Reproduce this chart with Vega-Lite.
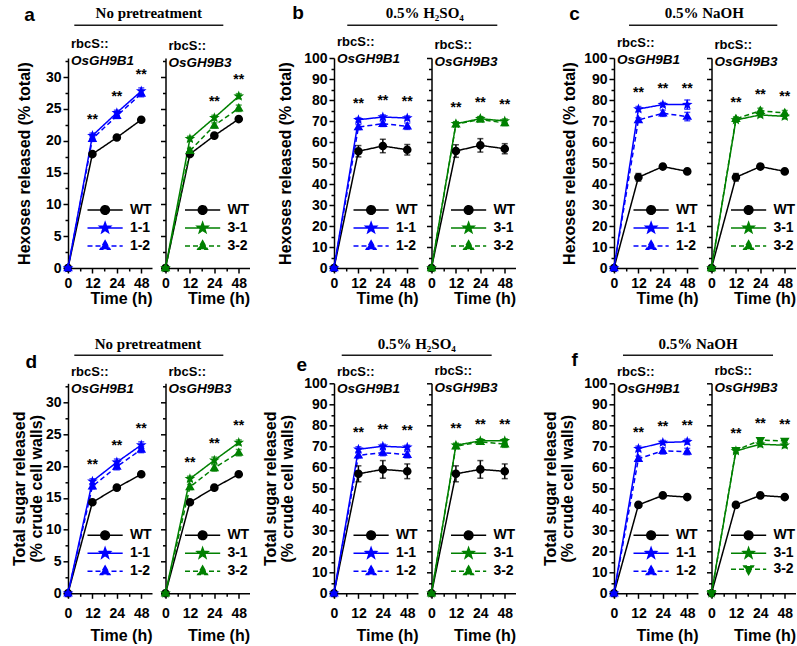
{
"$schema": "https://vega.github.io/schema/vega-lite/v6.json",
"background": "white",
"padding": {"left": 11, "top": 3, "right": -6, "bottom": 0},
"datasets": {"d": [
{"p":"a","g":"B1","s":"WT","t":0,"v":0,"e":0},{"p":"a","g":"B1","s":"WT","t":12,"v":17.9,"e":0.3},{"p":"a","g":"B1","s":"WT","t":24,"v":20.5,"e":0.3},{"p":"a","g":"B1","s":"WT","t":48,"v":23.3,"e":0.3},
{"p":"a","g":"B1","s":"1-1","t":0,"v":0,"e":0},{"p":"a","g":"B1","s":"1-1","t":12,"v":20.8,"e":0.4,"sig":"**"},{"p":"a","g":"B1","s":"1-1","t":24,"v":24.4,"e":0.4,"sig":"**"},{"p":"a","g":"B1","s":"1-1","t":48,"v":27.8,"e":0.5,"sig":"**"},
{"p":"a","g":"B1","s":"1-2","t":0,"v":0,"e":0},{"p":"a","g":"B1","s":"1-2","t":12,"v":20.3,"e":0.4},{"p":"a","g":"B1","s":"1-2","t":24,"v":23.9,"e":0.4},{"p":"a","g":"B1","s":"1-2","t":48,"v":27.4,"e":0.5},
{"p":"a","g":"B3","s":"WT","t":0,"v":0,"e":0},{"p":"a","g":"B3","s":"WT","t":12,"v":17.9,"e":0.3},{"p":"a","g":"B3","s":"WT","t":24,"v":20.8,"e":0.3},{"p":"a","g":"B3","s":"WT","t":48,"v":23.4,"e":0.3},
{"p":"a","g":"B3","s":"3-1","t":0,"v":0,"e":0},{"p":"a","g":"B3","s":"3-1","t":12,"v":20.3,"e":0.4},{"p":"a","g":"B3","s":"3-1","t":24,"v":23.6,"e":0.4,"sig":"**"},{"p":"a","g":"B3","s":"3-1","t":48,"v":27.0,"e":0.4,"sig":"**"},
{"p":"a","g":"B3","s":"3-2","t":0,"v":0,"e":0},{"p":"a","g":"B3","s":"3-2","t":12,"v":18.4,"e":0.4},{"p":"a","g":"B3","s":"3-2","t":24,"v":22.4,"e":0.4},{"p":"a","g":"B3","s":"3-2","t":48,"v":25.1,"e":0.5},
{"p":"b","g":"B1","s":"WT","t":0,"v":0,"e":0},{"p":"b","g":"B1","s":"WT","t":12,"v":55.6,"e":2.7},{"p":"b","g":"B1","s":"WT","t":24,"v":58.1,"e":3.2},{"p":"b","g":"B1","s":"WT","t":48,"v":56.3,"e":2.5},
{"p":"b","g":"B1","s":"1-1","t":0,"v":0,"e":0},{"p":"b","g":"B1","s":"1-1","t":12,"v":70.6,"e":1.0,"sig":"**"},{"p":"b","g":"B1","s":"1-1","t":24,"v":71.9,"e":1.0,"sig":"**"},{"p":"b","g":"B1","s":"1-1","t":48,"v":71.4,"e":1.0,"sig":"**"},
{"p":"b","g":"B1","s":"1-2","t":0,"v":0,"e":0},{"p":"b","g":"B1","s":"1-2","t":12,"v":67.1,"e":1.2},{"p":"b","g":"B1","s":"1-2","t":24,"v":68.7,"e":1.3},{"p":"b","g":"B1","s":"1-2","t":48,"v":67.5,"e":1.5},
{"p":"b","g":"B3","s":"WT","t":0,"v":0,"e":0},{"p":"b","g":"B3","s":"WT","t":12,"v":55.7,"e":3.0},{"p":"b","g":"B3","s":"WT","t":24,"v":58.4,"e":3.2},{"p":"b","g":"B3","s":"WT","t":48,"v":56.8,"e":2.4},
{"p":"b","g":"B3","s":"3-1","t":0,"v":0,"e":0},{"p":"b","g":"B3","s":"3-1","t":12,"v":68.7,"e":1.0,"sig":"**"},{"p":"b","g":"B3","s":"3-1","t":24,"v":71.1,"e":1.0,"sig":"**"},{"p":"b","g":"B3","s":"3-1","t":48,"v":70.0,"e":1.0,"sig":"**"},
{"p":"b","g":"B3","s":"3-2","t":0,"v":0,"e":0},{"p":"b","g":"B3","s":"3-2","t":12,"v":68.4,"e":1.0},{"p":"b","g":"B3","s":"3-2","t":24,"v":70.8,"e":1.2},{"p":"b","g":"B3","s":"3-2","t":48,"v":69.0,"e":1.2},
{"p":"c","g":"B1","s":"WT","t":0,"v":0,"e":0},{"p":"c","g":"B1","s":"WT","t":12,"v":43.2,"e":1.8},{"p":"c","g":"B1","s":"WT","t":24,"v":48.3,"e":1.0},{"p":"c","g":"B1","s":"WT","t":48,"v":46.0,"e":0.8},
{"p":"c","g":"B1","s":"1-1","t":0,"v":0,"e":0},{"p":"c","g":"B1","s":"1-1","t":12,"v":75.7,"e":1.2,"sig":"**"},{"p":"c","g":"B1","s":"1-1","t":24,"v":77.8,"e":1.0,"sig":"**"},{"p":"c","g":"B1","s":"1-1","t":48,"v":77.8,"e":2.2,"sig":"**"},
{"p":"c","g":"B1","s":"1-2","t":0,"v":0,"e":0},{"p":"c","g":"B1","s":"1-2","t":12,"v":70.5,"e":1.0},{"p":"c","g":"B1","s":"1-2","t":24,"v":73.7,"e":1.5},{"p":"c","g":"B1","s":"1-2","t":48,"v":72.1,"e":2.0},
{"p":"c","g":"B3","s":"WT","t":0,"v":0,"e":0},{"p":"c","g":"B3","s":"WT","t":12,"v":43.2,"e":1.8},{"p":"c","g":"B3","s":"WT","t":24,"v":48.3,"e":1.0},{"p":"c","g":"B3","s":"WT","t":48,"v":46.0,"e":0.8},
{"p":"c","g":"B3","s":"3-1","t":0,"v":0,"e":0},{"p":"c","g":"B3","s":"3-1","t":12,"v":70.5,"e":1.0},{"p":"c","g":"B3","s":"3-1","t":24,"v":72.9,"e":1.0},{"p":"c","g":"B3","s":"3-1","t":48,"v":72.2,"e":1.2},
{"p":"c","g":"B3","s":"3-2","t":0,"v":0,"e":0},{"p":"c","g":"B3","s":"3-2","t":12,"v":71.0,"e":1.0,"sig":"**"},{"p":"c","g":"B3","s":"3-2","t":24,"v":74.9,"e":1.2,"sig":"**"},{"p":"c","g":"B3","s":"3-2","t":48,"v":73.8,"e":1.2,"sig":"**"},
{"p":"d","g":"B1","s":"WT","t":0,"v":0,"e":0},{"p":"d","g":"B1","s":"WT","t":12,"v":14.3,"e":0.3},{"p":"d","g":"B1","s":"WT","t":24,"v":16.6,"e":0.3},{"p":"d","g":"B1","s":"WT","t":48,"v":18.7,"e":0.3},
{"p":"d","g":"B1","s":"1-1","t":0,"v":0,"e":0},{"p":"d","g":"B1","s":"1-1","t":12,"v":17.6,"e":0.4,"sig":"**"},{"p":"d","g":"B1","s":"1-1","t":24,"v":20.6,"e":0.5,"sig":"**"},{"p":"d","g":"B1","s":"1-1","t":48,"v":23.3,"e":0.5,"sig":"**"},
{"p":"d","g":"B1","s":"1-2","t":0,"v":0,"e":0},{"p":"d","g":"B1","s":"1-2","t":12,"v":16.8,"e":0.4},{"p":"d","g":"B1","s":"1-2","t":24,"v":19.9,"e":0.5},{"p":"d","g":"B1","s":"1-2","t":48,"v":22.6,"e":0.5},
{"p":"d","g":"B3","s":"WT","t":0,"v":0,"e":0},{"p":"d","g":"B3","s":"WT","t":12,"v":14.3,"e":0.3},{"p":"d","g":"B3","s":"WT","t":24,"v":16.6,"e":0.3},{"p":"d","g":"B3","s":"WT","t":48,"v":18.7,"e":0.3},
{"p":"d","g":"B3","s":"3-1","t":0,"v":0,"e":0},{"p":"d","g":"B3","s":"3-1","t":12,"v":18.0,"e":0.4,"sig":"**"},{"p":"d","g":"B3","s":"3-1","t":24,"v":20.9,"e":0.5,"sig":"**"},{"p":"d","g":"B3","s":"3-1","t":48,"v":23.7,"e":0.4,"sig":"**"},
{"p":"d","g":"B3","s":"3-2","t":0,"v":0,"e":0},{"p":"d","g":"B3","s":"3-2","t":12,"v":16.7,"e":0.4},{"p":"d","g":"B3","s":"3-2","t":24,"v":19.7,"e":0.5},{"p":"d","g":"B3","s":"3-2","t":48,"v":22.1,"e":0.5},
{"p":"e","g":"B1","s":"WT","t":0,"v":0,"e":0},{"p":"e","g":"B1","s":"WT","t":12,"v":56.9,"e":3.8},{"p":"e","g":"B1","s":"WT","t":24,"v":59.0,"e":4.2},{"p":"e","g":"B1","s":"WT","t":48,"v":58.1,"e":3.5},
{"p":"e","g":"B1","s":"1-1","t":0,"v":0,"e":0},{"p":"e","g":"B1","s":"1-1","t":12,"v":68.6,"e":1.2,"sig":"**"},{"p":"e","g":"B1","s":"1-1","t":24,"v":70.0,"e":1.0,"sig":"**"},{"p":"e","g":"B1","s":"1-1","t":48,"v":69.5,"e":1.0,"sig":"**"},
{"p":"e","g":"B1","s":"1-2","t":0,"v":0,"e":0},{"p":"e","g":"B1","s":"1-2","t":12,"v":65.7,"e":1.2},{"p":"e","g":"B1","s":"1-2","t":24,"v":67.0,"e":1.5},{"p":"e","g":"B1","s":"1-2","t":48,"v":66.0,"e":1.5},
{"p":"e","g":"B3","s":"WT","t":0,"v":0,"e":0},{"p":"e","g":"B3","s":"WT","t":12,"v":56.9,"e":3.8},{"p":"e","g":"B3","s":"WT","t":24,"v":59.0,"e":4.2},{"p":"e","g":"B3","s":"WT","t":48,"v":58.1,"e":3.5},
{"p":"e","g":"B3","s":"3-1","t":0,"v":0,"e":0},{"p":"e","g":"B3","s":"3-1","t":12,"v":70.5,"e":1.0,"sig":"**"},{"p":"e","g":"B3","s":"3-1","t":24,"v":72.6,"e":1.0,"sig":"**"},{"p":"e","g":"B3","s":"3-1","t":48,"v":72.6,"e":1.0,"sig":"**"},
{"p":"e","g":"B3","s":"3-2","t":0,"v":0,"e":0},{"p":"e","g":"B3","s":"3-2","t":12,"v":70.0,"e":1.0},{"p":"e","g":"B3","s":"3-2","t":24,"v":72.1,"e":1.0},{"p":"e","g":"B3","s":"3-2","t":48,"v":71.0,"e":1.5},
{"p":"f","g":"B1","s":"WT","t":0,"v":0,"e":0},{"p":"f","g":"B1","s":"WT","t":12,"v":42.1,"e":1.0},{"p":"f","g":"B1","s":"WT","t":24,"v":46.6,"e":0.8},{"p":"f","g":"B1","s":"WT","t":48,"v":45.8,"e":0.8},
{"p":"f","g":"B1","s":"1-1","t":0,"v":0,"e":0},{"p":"f","g":"B1","s":"1-1","t":12,"v":68.9,"e":1.2,"sig":"**"},{"p":"f","g":"B1","s":"1-1","t":24,"v":71.8,"e":1.0,"sig":"**"},{"p":"f","g":"B1","s":"1-1","t":48,"v":72.2,"e":1.2,"sig":"**"},
{"p":"f","g":"B1","s":"1-2","t":0,"v":0,"e":0},{"p":"f","g":"B1","s":"1-2","t":12,"v":64.1,"e":1.2},{"p":"f","g":"B1","s":"1-2","t":24,"v":67.8,"e":1.5},{"p":"f","g":"B1","s":"1-2","t":48,"v":67.5,"e":1.5},
{"p":"f","g":"B3","s":"WT","t":0,"v":0,"e":0},{"p":"f","g":"B3","s":"WT","t":12,"v":42.1,"e":1.0},{"p":"f","g":"B3","s":"WT","t":24,"v":46.6,"e":0.8},{"p":"f","g":"B3","s":"WT","t":48,"v":45.8,"e":0.8},
{"p":"f","g":"B3","s":"3-1","t":0,"v":0,"e":0},{"p":"f","g":"B3","s":"3-1","t":12,"v":67.8,"e":1.2},{"p":"f","g":"B3","s":"3-1","t":24,"v":71.0,"e":1.2},{"p":"f","g":"B3","s":"3-1","t":48,"v":70.5,"e":1.2},
{"p":"f","g":"B3","s":"3-2","t":0,"v":0,"e":0},{"p":"f","g":"B3","s":"3-2","t":12,"v":68.1,"e":1.0,"sig":"**"},{"p":"f","g":"B3","s":"3-2","t":24,"v":72.9,"e":1.0,"sig":"**"},{"p":"f","g":"B3","s":"3-2","t":48,"v":72.6,"e":1.0,"sig":"**"}
]},
"columns": 6,
"spacing": {"row": 115.3, "column": 13.5},
"bounds": "flush",
"align": "each",
"resolve": {"scale": {"x": "independent", "y": "independent", "color": "independent", "shape": "independent", "strokeDash": "independent"}, "legend": {"color": "independent", "shape": "independent", "strokeDash": "independent"}},
"concat": [
{
 "width": 84, "height": 210,
 "title": {"text": "rbcS::", "subtitle": "OsGH9B1", "offset": -8, "dy": 54},
 "resolve": {"scale": {"x": "independent", "y": "independent"}, "axis": {"x": "independent", "y": "independent"}},
 "layer": [
  {
   "data": {"name": "d"},
   "transform": [{"filter": "datum.p == 'a' && datum.g == 'B1'"}],
   "encoding": {
    "x": {"field": "t", "type": "ordinal", "scale": {"type": "point", "domain": [0,12,24,48], "range": [0,84], "padding": 0.22, "align": 0}, "axis": {"title": "Time (h)", "labelAngle": 0, "titleAnchor": "end", "labelPadding": 3, "titlePadding": 0}},
    "y": {"field": "v", "type": "quantitative", "scale": {"domain": [0,33], "nice": false, "zero": false}, "axis": {"title": "Hexoses released (% total)", "values": [0,5,10,15,20,25,30], "titlePadding": 13}},
    "color": {"field": "s", "type": "nominal", "scale": {"domain": ["WT","1-1","1-2"], "range": ["#000000","#0000ff","#0000ff"]}, "legend": {"title": null}}
   },
   "layer": [
    {"mark": {"type": "line", "strokeWidth": 1.5}, "encoding": {"strokeDash": {"field": "s", "type": "nominal", "scale": {"domain": ["WT","1-1","1-2"], "range": [[1,0],[1,0],[5,3]]}, "legend": {"title": null}}}},
    {"transform": [{"filter": "datum.e > 0"}], "mark": {"type": "errorbar", "ticks": {"size": 6}, "thickness": 1.5}, "encoding": {"yError": {"field": "e"}}},
    {"mark": {"type": "point", "filled": true, "size": 64, "opacity": 1}, "encoding": {"shape": {"field": "s", "type": "nominal", "scale": {"domain": ["WT","1-1","1-2"], "range": ["M-4.4,0H4.4M1.08,0A1.08,1.08,0,1,1,-1.08,0A1.08,1.08,0,1,1,1.08,0Z","M-4.4,0H4.4M0,-1.4L0.335,-0.461L1.331,-0.433L0.542,0.176L0.823,1.133L0,0.57L-0.823,1.133L-0.542,0.176L-1.331,-0.433L-0.335,-0.461Z","M-4.4,0H4.4M0,-1.3L1.2,0.8L-1.2,0.8Z"]}, "legend": {"title": null}}}},
    {"transform": [{"filter": "datum.sig"}], "mark": {"type": "text", "dy": -16, "fontSize": 14, "fontWeight": "bold"}, "encoding": {"text": {"field": "sig"}, "color": {"value": "#000000"}}}
   ]
  },
  {
   "data": {"name": "d"},
   "transform": [{"filter": "datum.p == 'a' && datum.g == 'B1'"}],
   "mark": {"type": "point", "opacity": 0},
   "encoding": {
    "x": {"field": "t", "type": "ordinal", "scale": {"type": "point", "domain": [0,12,24,48], "range": [0,84], "padding": 0.22, "align": 0}, "axis": {"orient": "bottom", "title": null, "labels": false, "domain": false, "tickSize": 3, "values": [0,12,24], "translate": 12.7, "offset": -12.2}},
    "y": {"field": "v", "type": "quantitative", "scale": {"domain": [0,33], "nice": false, "zero": false}, "axis": {"orient": "left", "title": null, "labels": false, "domain": false, "tickSize": 3, "values": [2.5,7.5,12.5,17.5,22.5,27.5,32.5]}}
   }
  },
  {
   "data": {"values": [{"lab": "a", "ttl": "No pretreatment"}]},
   "layer": [
    {"mark": {"type": "rule", "strokeWidth": 1.5, "color": "#1a1a1a"}, "encoding": {"x": {"datum": 0.075, "type": "quantitative", "scale": {"domain": [0,1], "nice": false, "zero": false}, "axis": null}, "x2": {"datum": 1.849}, "y": {"datum": 1.156, "type": "quantitative", "scale": {"domain": [0,1], "nice": false, "zero": false}, "axis": null}}},
    {"mark": {"type": "text", "font": "Liberation Serif", "fontSize": 15, "fontWeight": "bold", "color": "#000000"}, "encoding": {"text": {"field": "ttl"}, "x": {"datum": 0.962, "type": "quantitative", "axis": null}, "y": {"datum": 1.214, "type": "quantitative", "axis": null}}},
    {"mark": {"type": "text", "fontSize": 19, "fontWeight": "bold", "color": "#000000"}, "encoding": {"text": {"field": "lab"}, "x": {"datum": -0.457, "type": "quantitative", "axis": null}, "y": {"datum": 1.207, "type": "quantitative", "axis": null}}}
   ]
  }
 ]
},
{
 "width": 154.8, "height": 210,
 "title": {"text": "rbcS::", "subtitle": "OsGH9B3", "offset": -11},
 "resolve": {"scale": {"x": "independent", "y": "independent"}, "axis": {"x": "independent", "y": "independent"}},
 "layer": [
  {
   "data": {"name": "d"},
   "transform": [{"filter": "datum.p == 'a' && datum.g == 'B3'"}],
   "encoding": {
    "x": {"field": "t", "type": "ordinal", "scale": {"type": "point", "domain": [0,12,24,48], "range": [0,84], "padding": 0.22, "align": 0}, "axis": {"title": "Time (h)", "labelAngle": 0, "titleAnchor": "end", "labelPadding": 3, "titlePadding": 0}},
    "y": {"field": "v", "type": "quantitative", "scale": {"domain": [0,33], "nice": false, "zero": false}, "axis": {"title": null, "labels": false, "values": [0,5,10,15,20,25,30]}},
    "color": {"field": "s", "type": "nominal", "scale": {"domain": ["WT","3-1","3-2"], "range": ["#000000","#008000","#008000"]}, "legend": {"title": null}}
   },
   "layer": [
    {"mark": {"type": "line", "strokeWidth": 1.5}, "encoding": {"strokeDash": {"field": "s", "type": "nominal", "scale": {"domain": ["WT","3-1","3-2"], "range": [[1,0],[1,0],[5,3]]}, "legend": {"title": null}}}},
    {"transform": [{"filter": "datum.e > 0"}], "mark": {"type": "errorbar", "ticks": {"size": 6}, "thickness": 1.5}, "encoding": {"yError": {"field": "e"}}},
    {"mark": {"type": "point", "filled": true, "size": 64, "opacity": 1}, "encoding": {"shape": {"field": "s", "type": "nominal", "scale": {"domain": ["WT","3-1","3-2"], "range": ["M-4.4,0H4.4M1.08,0A1.08,1.08,0,1,1,-1.08,0A1.08,1.08,0,1,1,1.08,0Z","M-4.4,0H4.4M0,-1.4L0.335,-0.461L1.331,-0.433L0.542,0.176L0.823,1.133L0,0.57L-0.823,1.133L-0.542,0.176L-1.331,-0.433L-0.335,-0.461Z","M-4.4,0H4.4M0,-1.3L1.2,0.8L-1.2,0.8Z"]}, "legend": {"title": null}}}},
    {"transform": [{"filter": "datum.sig"}], "mark": {"type": "text", "dy": -16, "fontSize": 14, "fontWeight": "bold"}, "encoding": {"text": {"field": "sig"}, "color": {"value": "#000000"}}}
   ]
  },
  {
   "data": {"name": "d"},
   "transform": [{"filter": "datum.p == 'a' && datum.g == 'B3'"}],
   "mark": {"type": "point", "opacity": 0},
   "encoding": {
    "x": {"field": "t", "type": "ordinal", "scale": {"type": "point", "domain": [0,12,24,48], "range": [0,84], "padding": 0.22, "align": 0}, "axis": {"orient": "bottom", "title": null, "labels": false, "domain": false, "tickSize": 3, "values": [0,12,24], "translate": 12.7, "offset": -12.2}},
    "y": {"field": "v", "type": "quantitative", "scale": {"domain": [0,33], "nice": false, "zero": false}, "axis": {"orient": "left", "title": null, "labels": false, "domain": false, "tickSize": 3, "values": [2.5,7.5,12.5,17.5,22.5,27.5,32.5]}}
   }
  }
 ]
},
{
 "width": 84, "height": 210,
 "title": {"text": "rbcS::", "subtitle": "OsGH9B1", "offset": -8, "dy": 54},
 "resolve": {"scale": {"x": "independent", "y": "independent"}, "axis": {"x": "independent", "y": "independent"}},
 "layer": [
  {
   "data": {"name": "d"},
   "transform": [{"filter": "datum.p == 'b' && datum.g == 'B1'"}],
   "encoding": {
    "x": {"field": "t", "type": "ordinal", "scale": {"type": "point", "domain": [0,12,24,48], "range": [0,84], "padding": 0.22, "align": 0}, "axis": {"title": "Time (h)", "labelAngle": 0, "titleAnchor": "end", "labelPadding": 3, "titlePadding": 0}},
    "y": {"field": "v", "type": "quantitative", "scale": {"domain": [0,100], "nice": false, "zero": false}, "axis": {"title": "Hexoses released (% total)", "values": [0,10,20,30,40,50,60,70,80,90,100], "titlePadding": 10}},
    "color": {"field": "s", "type": "nominal", "scale": {"domain": ["WT","1-1","1-2"], "range": ["#000000","#0000ff","#0000ff"]}, "legend": {"title": null}}
   },
   "layer": [
    {"mark": {"type": "line", "strokeWidth": 1.5}, "encoding": {"strokeDash": {"field": "s", "type": "nominal", "scale": {"domain": ["WT","1-1","1-2"], "range": [[1,0],[1,0],[5,3]]}, "legend": {"title": null}}}},
    {"transform": [{"filter": "datum.e > 0"}], "mark": {"type": "errorbar", "ticks": {"size": 6}, "thickness": 1.5}, "encoding": {"yError": {"field": "e"}}},
    {"mark": {"type": "point", "filled": true, "size": 64, "opacity": 1}, "encoding": {"shape": {"field": "s", "type": "nominal", "scale": {"domain": ["WT","1-1","1-2"], "range": ["M-4.4,0H4.4M1.08,0A1.08,1.08,0,1,1,-1.08,0A1.08,1.08,0,1,1,1.08,0Z","M-4.4,0H4.4M0,-1.4L0.335,-0.461L1.331,-0.433L0.542,0.176L0.823,1.133L0,0.57L-0.823,1.133L-0.542,0.176L-1.331,-0.433L-0.335,-0.461Z","M-4.4,0H4.4M0,-1.3L1.2,0.8L-1.2,0.8Z"]}, "legend": {"title": null}}}},
    {"transform": [{"filter": "datum.sig"}], "mark": {"type": "text", "dy": -16, "fontSize": 14, "fontWeight": "bold"}, "encoding": {"text": {"field": "sig"}, "color": {"value": "#000000"}}}
   ]
  },
  {
   "data": {"name": "d"},
   "transform": [{"filter": "datum.p == 'b' && datum.g == 'B1'"}],
   "mark": {"type": "point", "opacity": 0},
   "encoding": {
    "x": {"field": "t", "type": "ordinal", "scale": {"type": "point", "domain": [0,12,24,48], "range": [0,84], "padding": 0.22, "align": 0}, "axis": {"orient": "bottom", "title": null, "labels": false, "domain": false, "tickSize": 3, "values": [0,12,24], "translate": 12.7, "offset": -12.2}},
    "y": {"field": "v", "type": "quantitative", "scale": {"domain": [0,100], "nice": false, "zero": false}, "axis": {"orient": "left", "title": null, "labels": false, "domain": false, "tickSize": 3, "values": [5,15,25,35,45,55,65,75,85,95]}}
   }
  },
  {
   "data": {"values": [{"lab": "b", "ttl": "0.5% H₂SO₄"}]},
   "layer": [
    {"mark": {"type": "rule", "strokeWidth": 1.5, "color": "#1a1a1a"}, "encoding": {"x": {"datum": 0.158, "type": "quantitative", "scale": {"domain": [0,1], "nice": false, "zero": false}, "axis": null}, "x2": {"datum": 1.944}, "y": {"datum": 1.156, "type": "quantitative", "scale": {"domain": [0,1], "nice": false, "zero": false}, "axis": null}}},
    {"mark": {"type": "text", "font": "Liberation Serif", "fontSize": 15, "fontWeight": "bold", "color": "#000000"}, "encoding": {"text": {"field": "ttl"}, "x": {"datum": 1.08, "type": "quantitative", "axis": null}, "y": {"datum": 1.214, "type": "quantitative", "axis": null}}},
    {"mark": {"type": "text", "fontSize": 19, "fontWeight": "bold", "color": "#000000"}, "encoding": {"text": {"field": "lab"}, "x": {"datum": -0.429, "type": "quantitative", "axis": null}, "y": {"datum": 1.216, "type": "quantitative", "axis": null}}}
   ]
  }
 ]
},
{
 "width": 168.5, "height": 210,
 "title": {"text": "rbcS::", "subtitle": "OsGH9B3", "offset": -11},
 "resolve": {"scale": {"x": "independent", "y": "independent"}, "axis": {"x": "independent", "y": "independent"}},
 "layer": [
  {
   "data": {"name": "d"},
   "transform": [{"filter": "datum.p == 'b' && datum.g == 'B3'"}],
   "encoding": {
    "x": {"field": "t", "type": "ordinal", "scale": {"type": "point", "domain": [0,12,24,48], "range": [0,84], "padding": 0.22, "align": 0}, "axis": {"title": "Time (h)", "labelAngle": 0, "titleAnchor": "end", "labelPadding": 3, "titlePadding": 0}},
    "y": {"field": "v", "type": "quantitative", "scale": {"domain": [0,100], "nice": false, "zero": false}, "axis": {"title": null, "labels": false, "values": [0,10,20,30,40,50,60,70,80,90,100]}},
    "color": {"field": "s", "type": "nominal", "scale": {"domain": ["WT","3-1","3-2"], "range": ["#000000","#008000","#008000"]}, "legend": {"title": null}}
   },
   "layer": [
    {"mark": {"type": "line", "strokeWidth": 1.5}, "encoding": {"strokeDash": {"field": "s", "type": "nominal", "scale": {"domain": ["WT","3-1","3-2"], "range": [[1,0],[1,0],[5,3]]}, "legend": {"title": null}}}},
    {"transform": [{"filter": "datum.e > 0"}], "mark": {"type": "errorbar", "ticks": {"size": 6}, "thickness": 1.5}, "encoding": {"yError": {"field": "e"}}},
    {"mark": {"type": "point", "filled": true, "size": 64, "opacity": 1}, "encoding": {"shape": {"field": "s", "type": "nominal", "scale": {"domain": ["WT","3-1","3-2"], "range": ["M-4.4,0H4.4M1.08,0A1.08,1.08,0,1,1,-1.08,0A1.08,1.08,0,1,1,1.08,0Z","M-4.4,0H4.4M0,-1.4L0.335,-0.461L1.331,-0.433L0.542,0.176L0.823,1.133L0,0.57L-0.823,1.133L-0.542,0.176L-1.331,-0.433L-0.335,-0.461Z","M-4.4,0H4.4M0,-1.3L1.2,0.8L-1.2,0.8Z"]}, "legend": {"title": null}}}},
    {"transform": [{"filter": "datum.sig"}], "mark": {"type": "text", "dy": -16, "fontSize": 14, "fontWeight": "bold"}, "encoding": {"text": {"field": "sig"}, "color": {"value": "#000000"}}}
   ]
  },
  {
   "data": {"name": "d"},
   "transform": [{"filter": "datum.p == 'b' && datum.g == 'B3'"}],
   "mark": {"type": "point", "opacity": 0},
   "encoding": {
    "x": {"field": "t", "type": "ordinal", "scale": {"type": "point", "domain": [0,12,24,48], "range": [0,84], "padding": 0.22, "align": 0}, "axis": {"orient": "bottom", "title": null, "labels": false, "domain": false, "tickSize": 3, "values": [0,12,24], "translate": 12.7, "offset": -12.2}},
    "y": {"field": "v", "type": "quantitative", "scale": {"domain": [0,100], "nice": false, "zero": false}, "axis": {"orient": "left", "title": null, "labels": false, "domain": false, "tickSize": 3, "values": [5,15,25,35,45,55,65,75,85,95]}}
   }
  }
 ]
},
{
 "width": 84, "height": 210,
 "title": {"text": "rbcS::", "subtitle": "OsGH9B1", "offset": -8, "dy": 54},
 "resolve": {"scale": {"x": "independent", "y": "independent"}, "axis": {"x": "independent", "y": "independent"}},
 "layer": [
  {
   "data": {"name": "d"},
   "transform": [{"filter": "datum.p == 'c' && datum.g == 'B1'"}],
   "encoding": {
    "x": {"field": "t", "type": "ordinal", "scale": {"type": "point", "domain": [0,12,24,48], "range": [0,84], "padding": 0.22, "align": 0}, "axis": {"title": "Time (h)", "labelAngle": 0, "titleAnchor": "end", "labelPadding": 3, "titlePadding": 0}},
    "y": {"field": "v", "type": "quantitative", "scale": {"domain": [0,100], "nice": false, "zero": false}, "axis": {"title": "Hexoses released (% total)", "values": [0,10,20,30,40,50,60,70,80,90,100], "titlePadding": 6}},
    "color": {"field": "s", "type": "nominal", "scale": {"domain": ["WT","1-1","1-2"], "range": ["#000000","#0000ff","#0000ff"]}, "legend": {"title": null}}
   },
   "layer": [
    {"mark": {"type": "line", "strokeWidth": 1.5}, "encoding": {"strokeDash": {"field": "s", "type": "nominal", "scale": {"domain": ["WT","1-1","1-2"], "range": [[1,0],[1,0],[5,3]]}, "legend": {"title": null}}}},
    {"transform": [{"filter": "datum.e > 0"}], "mark": {"type": "errorbar", "ticks": {"size": 6}, "thickness": 1.5}, "encoding": {"yError": {"field": "e"}}},
    {"mark": {"type": "point", "filled": true, "size": 64, "opacity": 1}, "encoding": {"shape": {"field": "s", "type": "nominal", "scale": {"domain": ["WT","1-1","1-2"], "range": ["M-4.4,0H4.4M1.08,0A1.08,1.08,0,1,1,-1.08,0A1.08,1.08,0,1,1,1.08,0Z","M-4.4,0H4.4M0,-1.4L0.335,-0.461L1.331,-0.433L0.542,0.176L0.823,1.133L0,0.57L-0.823,1.133L-0.542,0.176L-1.331,-0.433L-0.335,-0.461Z","M-4.4,0H4.4M0,-1.3L1.2,0.8L-1.2,0.8Z"]}, "legend": {"title": null}}}},
    {"transform": [{"filter": "datum.sig"}], "mark": {"type": "text", "dy": -16, "fontSize": 14, "fontWeight": "bold"}, "encoding": {"text": {"field": "sig"}, "color": {"value": "#000000"}}}
   ]
  },
  {
   "data": {"name": "d"},
   "transform": [{"filter": "datum.p == 'c' && datum.g == 'B1'"}],
   "mark": {"type": "point", "opacity": 0},
   "encoding": {
    "x": {"field": "t", "type": "ordinal", "scale": {"type": "point", "domain": [0,12,24,48], "range": [0,84], "padding": 0.22, "align": 0}, "axis": {"orient": "bottom", "title": null, "labels": false, "domain": false, "tickSize": 3, "values": [0,12,24], "translate": 12.7, "offset": -12.2}},
    "y": {"field": "v", "type": "quantitative", "scale": {"domain": [0,100], "nice": false, "zero": false}, "axis": {"orient": "left", "title": null, "labels": false, "domain": false, "tickSize": 3, "values": [5,15,25,35,45,55,65,75,85,95]}}
   }
  },
  {
   "data": {"values": [{"lab": "c", "ttl": "0.5% NaOH"}]},
   "layer": [
    {"mark": {"type": "rule", "strokeWidth": 1.5, "color": "#1a1a1a"}, "encoding": {"x": {"datum": 0.179, "type": "quantitative", "scale": {"domain": [0,1], "nice": false, "zero": false}, "axis": null}, "x2": {"datum": 1.944}, "y": {"datum": 1.156, "type": "quantitative", "scale": {"domain": [0,1], "nice": false, "zero": false}, "axis": null}}},
    {"mark": {"type": "text", "font": "Liberation Serif", "fontSize": 15, "fontWeight": "bold", "color": "#000000"}, "encoding": {"text": {"field": "ttl"}, "x": {"datum": 1.075, "type": "quantitative", "axis": null}, "y": {"datum": 1.214, "type": "quantitative", "axis": null}}},
    {"mark": {"type": "text", "fontSize": 19, "fontWeight": "bold", "color": "#000000"}, "encoding": {"text": {"field": "lab"}, "x": {"datum": -0.469, "type": "quantitative", "axis": null}, "y": {"datum": 1.211, "type": "quantitative", "axis": null}}}
   ]
  }
 ]
},
{
 "width": 84, "height": 210,
 "title": {"text": "rbcS::", "subtitle": "OsGH9B3", "offset": -11},
 "resolve": {"scale": {"x": "independent", "y": "independent"}, "axis": {"x": "independent", "y": "independent"}},
 "layer": [
  {
   "data": {"name": "d"},
   "transform": [{"filter": "datum.p == 'c' && datum.g == 'B3'"}],
   "encoding": {
    "x": {"field": "t", "type": "ordinal", "scale": {"type": "point", "domain": [0,12,24,48], "range": [0,84], "padding": 0.22, "align": 0}, "axis": {"title": "Time (h)", "labelAngle": 0, "titleAnchor": "end", "labelPadding": 3, "titlePadding": 0}},
    "y": {"field": "v", "type": "quantitative", "scale": {"domain": [0,100], "nice": false, "zero": false}, "axis": {"title": null, "labels": false, "values": [0,10,20,30,40,50,60,70,80,90,100]}},
    "color": {"field": "s", "type": "nominal", "scale": {"domain": ["WT","3-1","3-2"], "range": ["#000000","#008000","#008000"]}, "legend": {"title": null}}
   },
   "layer": [
    {"mark": {"type": "line", "strokeWidth": 1.5}, "encoding": {"strokeDash": {"field": "s", "type": "nominal", "scale": {"domain": ["WT","3-1","3-2"], "range": [[1,0],[1,0],[5,3]]}, "legend": {"title": null}}}},
    {"transform": [{"filter": "datum.e > 0"}], "mark": {"type": "errorbar", "ticks": {"size": 6}, "thickness": 1.5}, "encoding": {"yError": {"field": "e"}}},
    {"mark": {"type": "point", "filled": true, "size": 64, "opacity": 1}, "encoding": {"shape": {"field": "s", "type": "nominal", "scale": {"domain": ["WT","3-1","3-2"], "range": ["M-4.4,0H4.4M1.08,0A1.08,1.08,0,1,1,-1.08,0A1.08,1.08,0,1,1,1.08,0Z","M-4.4,0H4.4M0,-1.4L0.335,-0.461L1.331,-0.433L0.542,0.176L0.823,1.133L0,0.57L-0.823,1.133L-0.542,0.176L-1.331,-0.433L-0.335,-0.461Z","M-4.4,0H4.4M0,-1.3L1.2,0.8L-1.2,0.8Z"]}, "legend": {"title": null}}}},
    {"transform": [{"filter": "datum.sig"}], "mark": {"type": "text", "dy": -16, "fontSize": 14, "fontWeight": "bold"}, "encoding": {"text": {"field": "sig"}, "color": {"value": "#000000"}}}
   ]
  },
  {
   "data": {"name": "d"},
   "transform": [{"filter": "datum.p == 'c' && datum.g == 'B3'"}],
   "mark": {"type": "point", "opacity": 0},
   "encoding": {
    "x": {"field": "t", "type": "ordinal", "scale": {"type": "point", "domain": [0,12,24,48], "range": [0,84], "padding": 0.22, "align": 0}, "axis": {"orient": "bottom", "title": null, "labels": false, "domain": false, "tickSize": 3, "values": [0,12,24], "translate": 12.7, "offset": -12.2}},
    "y": {"field": "v", "type": "quantitative", "scale": {"domain": [0,100], "nice": false, "zero": false}, "axis": {"orient": "left", "title": null, "labels": false, "domain": false, "tickSize": 3, "values": [5,15,25,35,45,55,65,75,85,95]}}
   }
  }
 ]
},
{
 "width": 84, "height": 210,
 "title": {"text": "rbcS::", "subtitle": "OsGH9B1", "offset": -12, "dy": 47},
 "resolve": {"scale": {"x": "independent", "y": "independent"}, "axis": {"x": "independent", "y": "independent"}},
 "layer": [
  {
   "data": {"name": "d"},
   "transform": [{"filter": "datum.p == 'd' && datum.g == 'B1'"}],
   "encoding": {
    "x": {"field": "t", "type": "ordinal", "scale": {"type": "point", "domain": [0,12,24,48], "range": [0,84], "padding": 0.22, "align": 0}, "axis": {"title": "Time (h)", "labelAngle": 0, "titleAnchor": "end", "labelPadding": 8, "titlePadding": 7}},
    "y": {"field": "v", "type": "quantitative", "scale": {"domain": [0,33], "nice": false, "zero": false}, "axis": {"title": ["Total sugar released", "(% crude cell walls)"], "values": [0,5,10,15,20,25,30], "titlePadding": 1}},
    "color": {"field": "s", "type": "nominal", "scale": {"domain": ["WT","1-1","1-2"], "range": ["#000000","#0000ff","#0000ff"]}, "legend": {"title": null}}
   },
   "layer": [
    {"mark": {"type": "line", "strokeWidth": 1.5}, "encoding": {"strokeDash": {"field": "s", "type": "nominal", "scale": {"domain": ["WT","1-1","1-2"], "range": [[1,0],[1,0],[5,3]]}, "legend": {"title": null}}}},
    {"transform": [{"filter": "datum.e > 0"}], "mark": {"type": "errorbar", "ticks": {"size": 6}, "thickness": 1.5}, "encoding": {"yError": {"field": "e"}}},
    {"mark": {"type": "point", "filled": true, "size": 64, "opacity": 1}, "encoding": {"shape": {"field": "s", "type": "nominal", "scale": {"domain": ["WT","1-1","1-2"], "range": ["M-4.4,0H4.4M1.08,0A1.08,1.08,0,1,1,-1.08,0A1.08,1.08,0,1,1,1.08,0Z","M-4.4,0H4.4M0,-1.4L0.335,-0.461L1.331,-0.433L0.542,0.176L0.823,1.133L0,0.57L-0.823,1.133L-0.542,0.176L-1.331,-0.433L-0.335,-0.461Z","M-4.4,0H4.4M0,-1.3L1.2,0.8L-1.2,0.8Z"]}, "legend": {"title": null}}}},
    {"transform": [{"filter": "datum.sig"}], "mark": {"type": "text", "dy": -16, "fontSize": 14, "fontWeight": "bold"}, "encoding": {"text": {"field": "sig"}, "color": {"value": "#000000"}}}
   ]
  },
  {
   "data": {"name": "d"},
   "transform": [{"filter": "datum.p == 'd' && datum.g == 'B1'"}],
   "mark": {"type": "point", "opacity": 0},
   "encoding": {
    "x": {"field": "t", "type": "ordinal", "scale": {"type": "point", "domain": [0,12,24,48], "range": [0,84], "padding": 0.22, "align": 0}, "axis": {"orient": "bottom", "title": null, "labels": false, "domain": false, "tickSize": 3, "values": [0,12,24], "translate": 12.7, "offset": -12.2}},
    "y": {"field": "v", "type": "quantitative", "scale": {"domain": [0,33], "nice": false, "zero": false}, "axis": {"orient": "left", "title": null, "labels": false, "domain": false, "tickSize": 3, "values": [2.5,7.5,12.5,17.5,22.5,27.5,32.5]}}
   }
  },
  {
   "data": {"values": [{"lab": "d", "ttl": "No pretreatment"}]},
   "layer": [
    {"mark": {"type": "rule", "strokeWidth": 1.5, "color": "#1a1a1a"}, "encoding": {"x": {"datum": 0.075, "type": "quantitative", "scale": {"domain": [0,1], "nice": false, "zero": false}, "axis": null}, "x2": {"datum": 1.849}, "y": {"datum": 1.133, "type": "quantitative", "scale": {"domain": [0,1], "nice": false, "zero": false}, "axis": null}}},
    {"mark": {"type": "text", "font": "Liberation Serif", "fontSize": 15, "fontWeight": "bold", "color": "#000000"}, "encoding": {"text": {"field": "ttl"}, "x": {"datum": 0.952, "type": "quantitative", "axis": null}, "y": {"datum": 1.189, "type": "quantitative", "axis": null}}},
    {"mark": {"type": "text", "fontSize": 19, "fontWeight": "bold", "color": "#000000"}, "encoding": {"text": {"field": "lab"}, "x": {"datum": -0.437, "type": "quantitative", "axis": null}, "y": {"datum": 1.10, "type": "quantitative", "axis": null}}}
   ]
  }
 ]
},
{
 "width": 154.8, "height": 210,
 "title": {"text": "rbcS::", "subtitle": "OsGH9B3", "offset": -12},
 "resolve": {"scale": {"x": "independent", "y": "independent"}, "axis": {"x": "independent", "y": "independent"}},
 "layer": [
  {
   "data": {"name": "d"},
   "transform": [{"filter": "datum.p == 'd' && datum.g == 'B3'"}],
   "encoding": {
    "x": {"field": "t", "type": "ordinal", "scale": {"type": "point", "domain": [0,12,24,48], "range": [0,84], "padding": 0.22, "align": 0}, "axis": {"title": "Time (h)", "labelAngle": 0, "titleAnchor": "end", "labelPadding": 8, "titlePadding": 7}},
    "y": {"field": "v", "type": "quantitative", "scale": {"domain": [0,33], "nice": false, "zero": false}, "axis": {"title": null, "labels": false, "values": [0,5,10,15,20,25,30]}},
    "color": {"field": "s", "type": "nominal", "scale": {"domain": ["WT","3-1","3-2"], "range": ["#000000","#008000","#008000"]}, "legend": {"title": null}}
   },
   "layer": [
    {"mark": {"type": "line", "strokeWidth": 1.5}, "encoding": {"strokeDash": {"field": "s", "type": "nominal", "scale": {"domain": ["WT","3-1","3-2"], "range": [[1,0],[1,0],[5,3]]}, "legend": {"title": null}}}},
    {"transform": [{"filter": "datum.e > 0"}], "mark": {"type": "errorbar", "ticks": {"size": 6}, "thickness": 1.5}, "encoding": {"yError": {"field": "e"}}},
    {"mark": {"type": "point", "filled": true, "size": 64, "opacity": 1}, "encoding": {"shape": {"field": "s", "type": "nominal", "scale": {"domain": ["WT","3-1","3-2"], "range": ["M-4.4,0H4.4M1.08,0A1.08,1.08,0,1,1,-1.08,0A1.08,1.08,0,1,1,1.08,0Z","M-4.4,0H4.4M0,-1.4L0.335,-0.461L1.331,-0.433L0.542,0.176L0.823,1.133L0,0.57L-0.823,1.133L-0.542,0.176L-1.331,-0.433L-0.335,-0.461Z","M-4.4,0H4.4M0,-1.3L1.2,0.8L-1.2,0.8Z"]}, "legend": {"title": null}}}},
    {"transform": [{"filter": "datum.sig"}], "mark": {"type": "text", "dy": -16, "fontSize": 14, "fontWeight": "bold"}, "encoding": {"text": {"field": "sig"}, "color": {"value": "#000000"}}}
   ]
  },
  {
   "data": {"name": "d"},
   "transform": [{"filter": "datum.p == 'd' && datum.g == 'B3'"}],
   "mark": {"type": "point", "opacity": 0},
   "encoding": {
    "x": {"field": "t", "type": "ordinal", "scale": {"type": "point", "domain": [0,12,24,48], "range": [0,84], "padding": 0.22, "align": 0}, "axis": {"orient": "bottom", "title": null, "labels": false, "domain": false, "tickSize": 3, "values": [0,12,24], "translate": 12.7, "offset": -12.2}},
    "y": {"field": "v", "type": "quantitative", "scale": {"domain": [0,33], "nice": false, "zero": false}, "axis": {"orient": "left", "title": null, "labels": false, "domain": false, "tickSize": 3, "values": [2.5,7.5,12.5,17.5,22.5,27.5,32.5]}}
   }
  }
 ]
},
{
 "width": 84, "height": 210,
 "title": {"text": "rbcS::", "subtitle": "OsGH9B1", "offset": -12, "dy": 47},
 "resolve": {"scale": {"x": "independent", "y": "independent"}, "axis": {"x": "independent", "y": "independent"}},
 "layer": [
  {
   "data": {"name": "d"},
   "transform": [{"filter": "datum.p == 'e' && datum.g == 'B1'"}],
   "encoding": {
    "x": {"field": "t", "type": "ordinal", "scale": {"type": "point", "domain": [0,12,24,48], "range": [0,84], "padding": 0.22, "align": 0}, "axis": {"title": "Time (h)", "labelAngle": 0, "titleAnchor": "end", "labelPadding": 8, "titlePadding": 7}},
    "y": {"field": "v", "type": "quantitative", "scale": {"domain": [0,100], "nice": false, "zero": false}, "axis": {"title": ["Total sugar released", "(% crude cell walls)"], "values": [0,10,20,30,40,50,60,70,80,90,100], "titlePadding": 8}},
    "color": {"field": "s", "type": "nominal", "scale": {"domain": ["WT","1-1","1-2"], "range": ["#000000","#0000ff","#0000ff"]}, "legend": {"title": null}}
   },
   "layer": [
    {"mark": {"type": "line", "strokeWidth": 1.5}, "encoding": {"strokeDash": {"field": "s", "type": "nominal", "scale": {"domain": ["WT","1-1","1-2"], "range": [[1,0],[1,0],[5,3]]}, "legend": {"title": null}}}},
    {"transform": [{"filter": "datum.e > 0"}], "mark": {"type": "errorbar", "ticks": {"size": 6}, "thickness": 1.5}, "encoding": {"yError": {"field": "e"}}},
    {"mark": {"type": "point", "filled": true, "size": 64, "opacity": 1}, "encoding": {"shape": {"field": "s", "type": "nominal", "scale": {"domain": ["WT","1-1","1-2"], "range": ["M-4.4,0H4.4M1.08,0A1.08,1.08,0,1,1,-1.08,0A1.08,1.08,0,1,1,1.08,0Z","M-4.4,0H4.4M0,-1.4L0.335,-0.461L1.331,-0.433L0.542,0.176L0.823,1.133L0,0.57L-0.823,1.133L-0.542,0.176L-1.331,-0.433L-0.335,-0.461Z","M-4.4,0H4.4M0,-1.3L1.2,0.8L-1.2,0.8Z"]}, "legend": {"title": null}}}},
    {"transform": [{"filter": "datum.sig"}], "mark": {"type": "text", "dy": -16, "fontSize": 14, "fontWeight": "bold"}, "encoding": {"text": {"field": "sig"}, "color": {"value": "#000000"}}}
   ]
  },
  {
   "data": {"name": "d"},
   "transform": [{"filter": "datum.p == 'e' && datum.g == 'B1'"}],
   "mark": {"type": "point", "opacity": 0},
   "encoding": {
    "x": {"field": "t", "type": "ordinal", "scale": {"type": "point", "domain": [0,12,24,48], "range": [0,84], "padding": 0.22, "align": 0}, "axis": {"orient": "bottom", "title": null, "labels": false, "domain": false, "tickSize": 3, "values": [0,12,24], "translate": 12.7, "offset": -12.2}},
    "y": {"field": "v", "type": "quantitative", "scale": {"domain": [0,100], "nice": false, "zero": false}, "axis": {"orient": "left", "title": null, "labels": false, "domain": false, "tickSize": 3, "values": [5,15,25,35,45,55,65,75,85,95]}}
   }
  },
  {
   "data": {"values": [{"lab": "e", "ttl": "0.5% H₂SO₄"}]},
   "layer": [
    {"mark": {"type": "rule", "strokeWidth": 1.5, "color": "#1a1a1a"}, "encoding": {"x": {"datum": 0.092, "type": "quantitative", "scale": {"domain": [0,1], "nice": false, "zero": false}, "axis": null}, "x2": {"datum": 1.877}, "y": {"datum": 1.133, "type": "quantitative", "scale": {"domain": [0,1], "nice": false, "zero": false}, "axis": null}}},
    {"mark": {"type": "text", "font": "Liberation Serif", "fontSize": 15, "fontWeight": "bold", "color": "#000000"}, "encoding": {"text": {"field": "ttl"}, "x": {"datum": 0.985, "type": "quantitative", "axis": null}, "y": {"datum": 1.189, "type": "quantitative", "axis": null}}},
    {"mark": {"type": "text", "fontSize": 19, "fontWeight": "bold", "color": "#000000"}, "encoding": {"text": {"field": "lab"}, "x": {"datum": -0.385, "type": "quantitative", "axis": null}, "y": {"datum": 1.086, "type": "quantitative", "axis": null}}}
   ]
  }
 ]
},
{
 "width": 168.5, "height": 210,
 "title": {"text": "rbcS::", "subtitle": "OsGH9B3", "offset": -12},
 "resolve": {"scale": {"x": "independent", "y": "independent"}, "axis": {"x": "independent", "y": "independent"}},
 "layer": [
  {
   "data": {"name": "d"},
   "transform": [{"filter": "datum.p == 'e' && datum.g == 'B3'"}],
   "encoding": {
    "x": {"field": "t", "type": "ordinal", "scale": {"type": "point", "domain": [0,12,24,48], "range": [0,84], "padding": 0.22, "align": 0}, "axis": {"title": "Time (h)", "labelAngle": 0, "titleAnchor": "end", "labelPadding": 8, "titlePadding": 7}},
    "y": {"field": "v", "type": "quantitative", "scale": {"domain": [0,100], "nice": false, "zero": false}, "axis": {"title": null, "labels": false, "values": [0,10,20,30,40,50,60,70,80,90,100]}},
    "color": {"field": "s", "type": "nominal", "scale": {"domain": ["WT","3-1","3-2"], "range": ["#000000","#008000","#008000"]}, "legend": {"title": null}}
   },
   "layer": [
    {"mark": {"type": "line", "strokeWidth": 1.5}, "encoding": {"strokeDash": {"field": "s", "type": "nominal", "scale": {"domain": ["WT","3-1","3-2"], "range": [[1,0],[1,0],[5,3]]}, "legend": {"title": null}}}},
    {"transform": [{"filter": "datum.e > 0"}], "mark": {"type": "errorbar", "ticks": {"size": 6}, "thickness": 1.5}, "encoding": {"yError": {"field": "e"}}},
    {"mark": {"type": "point", "filled": true, "size": 64, "opacity": 1}, "encoding": {"shape": {"field": "s", "type": "nominal", "scale": {"domain": ["WT","3-1","3-2"], "range": ["M-4.4,0H4.4M1.08,0A1.08,1.08,0,1,1,-1.08,0A1.08,1.08,0,1,1,1.08,0Z","M-4.4,0H4.4M0,-1.4L0.335,-0.461L1.331,-0.433L0.542,0.176L0.823,1.133L0,0.57L-0.823,1.133L-0.542,0.176L-1.331,-0.433L-0.335,-0.461Z","M-4.4,0H4.4M0,-1.3L1.2,0.8L-1.2,0.8Z"]}, "legend": {"title": null}}}},
    {"transform": [{"filter": "datum.sig"}], "mark": {"type": "text", "dy": -16, "fontSize": 14, "fontWeight": "bold"}, "encoding": {"text": {"field": "sig"}, "color": {"value": "#000000"}}}
   ]
  },
  {
   "data": {"name": "d"},
   "transform": [{"filter": "datum.p == 'e' && datum.g == 'B3'"}],
   "mark": {"type": "point", "opacity": 0},
   "encoding": {
    "x": {"field": "t", "type": "ordinal", "scale": {"type": "point", "domain": [0,12,24,48], "range": [0,84], "padding": 0.22, "align": 0}, "axis": {"orient": "bottom", "title": null, "labels": false, "domain": false, "tickSize": 3, "values": [0,12,24], "translate": 12.7, "offset": -12.2}},
    "y": {"field": "v", "type": "quantitative", "scale": {"domain": [0,100], "nice": false, "zero": false}, "axis": {"orient": "left", "title": null, "labels": false, "domain": false, "tickSize": 3, "values": [5,15,25,35,45,55,65,75,85,95]}}
   }
  }
 ]
},
{
 "width": 84, "height": 210,
 "title": {"text": "rbcS::", "subtitle": "OsGH9B1", "offset": -12, "dy": 47},
 "resolve": {"scale": {"x": "independent", "y": "independent"}, "axis": {"x": "independent", "y": "independent"}},
 "layer": [
  {
   "data": {"name": "d"},
   "transform": [{"filter": "datum.p == 'f' && datum.g == 'B1'"}],
   "encoding": {
    "x": {"field": "t", "type": "ordinal", "scale": {"type": "point", "domain": [0,12,24,48], "range": [0,84], "padding": 0.22, "align": 0}, "axis": {"title": "Time (h)", "labelAngle": 0, "titleAnchor": "end", "labelPadding": 8, "titlePadding": 7}},
    "y": {"field": "v", "type": "quantitative", "scale": {"domain": [0,100], "nice": false, "zero": false}, "axis": {"title": ["Total sugar released", "(% crude cell walls)"], "values": [0,10,20,30,40,50,60,70,80,90,100], "titlePadding": 8}},
    "color": {"field": "s", "type": "nominal", "scale": {"domain": ["WT","1-1","1-2"], "range": ["#000000","#0000ff","#0000ff"]}, "legend": {"title": null}}
   },
   "layer": [
    {"mark": {"type": "line", "strokeWidth": 1.5}, "encoding": {"strokeDash": {"field": "s", "type": "nominal", "scale": {"domain": ["WT","1-1","1-2"], "range": [[1,0],[1,0],[5,3]]}, "legend": {"title": null}}}},
    {"transform": [{"filter": "datum.e > 0"}], "mark": {"type": "errorbar", "ticks": {"size": 6}, "thickness": 1.5}, "encoding": {"yError": {"field": "e"}}},
    {"mark": {"type": "point", "filled": true, "size": 64, "opacity": 1}, "encoding": {"shape": {"field": "s", "type": "nominal", "scale": {"domain": ["WT","1-1","1-2"], "range": ["M-4.4,0H4.4M1.08,0A1.08,1.08,0,1,1,-1.08,0A1.08,1.08,0,1,1,1.08,0Z","M-4.4,0H4.4M0,-1.4L0.335,-0.461L1.331,-0.433L0.542,0.176L0.823,1.133L0,0.57L-0.823,1.133L-0.542,0.176L-1.331,-0.433L-0.335,-0.461Z","M-4.4,0H4.4M0,-1.3L1.2,0.8L-1.2,0.8Z"]}, "legend": {"title": null}}}},
    {"transform": [{"filter": "datum.sig"}], "mark": {"type": "text", "dy": -16, "fontSize": 14, "fontWeight": "bold"}, "encoding": {"text": {"field": "sig"}, "color": {"value": "#000000"}}}
   ]
  },
  {
   "data": {"name": "d"},
   "transform": [{"filter": "datum.p == 'f' && datum.g == 'B1'"}],
   "mark": {"type": "point", "opacity": 0},
   "encoding": {
    "x": {"field": "t", "type": "ordinal", "scale": {"type": "point", "domain": [0,12,24,48], "range": [0,84], "padding": 0.22, "align": 0}, "axis": {"orient": "bottom", "title": null, "labels": false, "domain": false, "tickSize": 3, "values": [0,12,24], "translate": 12.7, "offset": -12.2}},
    "y": {"field": "v", "type": "quantitative", "scale": {"domain": [0,100], "nice": false, "zero": false}, "axis": {"orient": "left", "title": null, "labels": false, "domain": false, "tickSize": 3, "values": [5,15,25,35,45,55,65,75,85,95]}}
   }
  },
  {
   "data": {"values": [{"lab": "f", "ttl": "0.5% NaOH"}]},
   "layer": [
    {"mark": {"type": "rule", "strokeWidth": 1.5, "color": "#1a1a1a"}, "encoding": {"x": {"datum": 0.107, "type": "quantitative", "scale": {"domain": [0,1], "nice": false, "zero": false}, "axis": null}, "x2": {"datum": 1.893}, "y": {"datum": 1.133, "type": "quantitative", "scale": {"domain": [0,1], "nice": false, "zero": false}, "axis": null}}},
    {"mark": {"type": "text", "font": "Liberation Serif", "fontSize": 15, "fontWeight": "bold", "color": "#000000"}, "encoding": {"text": {"field": "ttl"}, "x": {"datum": 1.0, "type": "quantitative", "axis": null}, "y": {"datum": 1.189, "type": "quantitative", "axis": null}}},
    {"mark": {"type": "text", "fontSize": 19, "fontWeight": "bold", "color": "#000000"}, "encoding": {"text": {"field": "lab"}, "x": {"datum": -0.469, "type": "quantitative", "axis": null}, "y": {"datum": 1.11, "type": "quantitative", "axis": null}}}
   ]
  }
 ]
},
{
 "width": 84, "height": 210,
 "title": {"text": "rbcS::", "subtitle": "OsGH9B3", "offset": -12},
 "resolve": {"scale": {"x": "independent", "y": "independent"}, "axis": {"x": "independent", "y": "independent"}},
 "layer": [
  {
   "data": {"name": "d"},
   "transform": [{"filter": "datum.p == 'f' && datum.g == 'B3'"}],
   "encoding": {
    "x": {"field": "t", "type": "ordinal", "scale": {"type": "point", "domain": [0,12,24,48], "range": [0,84], "padding": 0.22, "align": 0}, "axis": {"title": "Time (h)", "labelAngle": 0, "titleAnchor": "end", "labelPadding": 8, "titlePadding": 7}},
    "y": {"field": "v", "type": "quantitative", "scale": {"domain": [0,100], "nice": false, "zero": false}, "axis": {"title": null, "labels": false, "values": [0,10,20,30,40,50,60,70,80,90,100]}},
    "color": {"field": "s", "type": "nominal", "scale": {"domain": ["WT","3-1","3-2"], "range": ["#000000","#008000","#008000"]}, "legend": {"title": null}}
   },
   "layer": [
    {"mark": {"type": "line", "strokeWidth": 1.5}, "encoding": {"strokeDash": {"field": "s", "type": "nominal", "scale": {"domain": ["WT","3-1","3-2"], "range": [[1,0],[1,0],[5,3]]}, "legend": {"title": null}}}},
    {"transform": [{"filter": "datum.e > 0"}], "mark": {"type": "errorbar", "ticks": {"size": 6}, "thickness": 1.5}, "encoding": {"yError": {"field": "e"}}},
    {"mark": {"type": "point", "filled": true, "size": 64, "opacity": 1}, "encoding": {"shape": {"field": "s", "type": "nominal", "scale": {"domain": ["WT","3-1","3-2"], "range": ["M-4.4,0H4.4M1.08,0A1.08,1.08,0,1,1,-1.08,0A1.08,1.08,0,1,1,1.08,0Z","M-4.4,0H4.4M0,-1.4L0.335,-0.461L1.331,-0.433L0.542,0.176L0.823,1.133L0,0.57L-0.823,1.133L-0.542,0.176L-1.331,-0.433L-0.335,-0.461Z","M-4.4,0H4.4M0,1.3L1.2,-0.8L-1.2,-0.8Z"]}, "legend": {"title": null}}}},
    {"transform": [{"filter": "datum.sig"}], "mark": {"type": "text", "dy": -16, "fontSize": 14, "fontWeight": "bold"}, "encoding": {"text": {"field": "sig"}, "color": {"value": "#000000"}}}
   ]
  },
  {
   "data": {"name": "d"},
   "transform": [{"filter": "datum.p == 'f' && datum.g == 'B3'"}],
   "mark": {"type": "point", "opacity": 0},
   "encoding": {
    "x": {"field": "t", "type": "ordinal", "scale": {"type": "point", "domain": [0,12,24,48], "range": [0,84], "padding": 0.22, "align": 0}, "axis": {"orient": "bottom", "title": null, "labels": false, "domain": false, "tickSize": 3, "values": [0,12,24], "translate": 12.7, "offset": -12.2}},
    "y": {"field": "v", "type": "quantitative", "scale": {"domain": [0,100], "nice": false, "zero": false}, "axis": {"orient": "left", "title": null, "labels": false, "domain": false, "tickSize": 3, "values": [5,15,25,35,45,55,65,75,85,95]}}
   }
  }
 ]
}
],
"config": {
 "view": {"stroke": null},
 "font": "Liberation Sans",
 "axis": {"domainColor": "#000000", "domainWidth": 1.5, "tickColor": "#000000", "tickWidth": 1.5, "tickSize": 5, "labelFont": "Liberation Sans", "labelFontSize": 14, "labelFontWeight": "bold", "labelColor": "#000000", "labelPadding": 2, "titleFont": "Liberation Sans", "titleFontSize": 16, "titleFontWeight": "bold", "titleColor": "#000000", "titleLineHeight": 17, "grid": false},
 "legend": {"orient": "bottom-left", "offset": 15, "padding": 0, "labelFont": "Liberation Sans", "labelFontSize": 14, "labelFontWeight": "bold", "labelColor": "#000000", "symbolSize": 64, "symbolStrokeWidth": 1.5, "symbolOpacity": 1, "symbolOffset": 15.1, "labelOffset": 17.8, "rowPadding": 1},
 "title": {"anchor": "start", "frame": "group", "font": "Liberation Sans", "fontSize": 13, "fontWeight": "bold", "color": "#000000", "subtitleFont": "Liberation Sans", "subtitleFontSize": 13.5, "subtitleFontWeight": "bold", "subtitleFontStyle": "italic", "subtitleColor": "#000000", "subtitlePadding": 3, "dx": 3},
 "text": {"font": "Liberation Sans"}
}
}
